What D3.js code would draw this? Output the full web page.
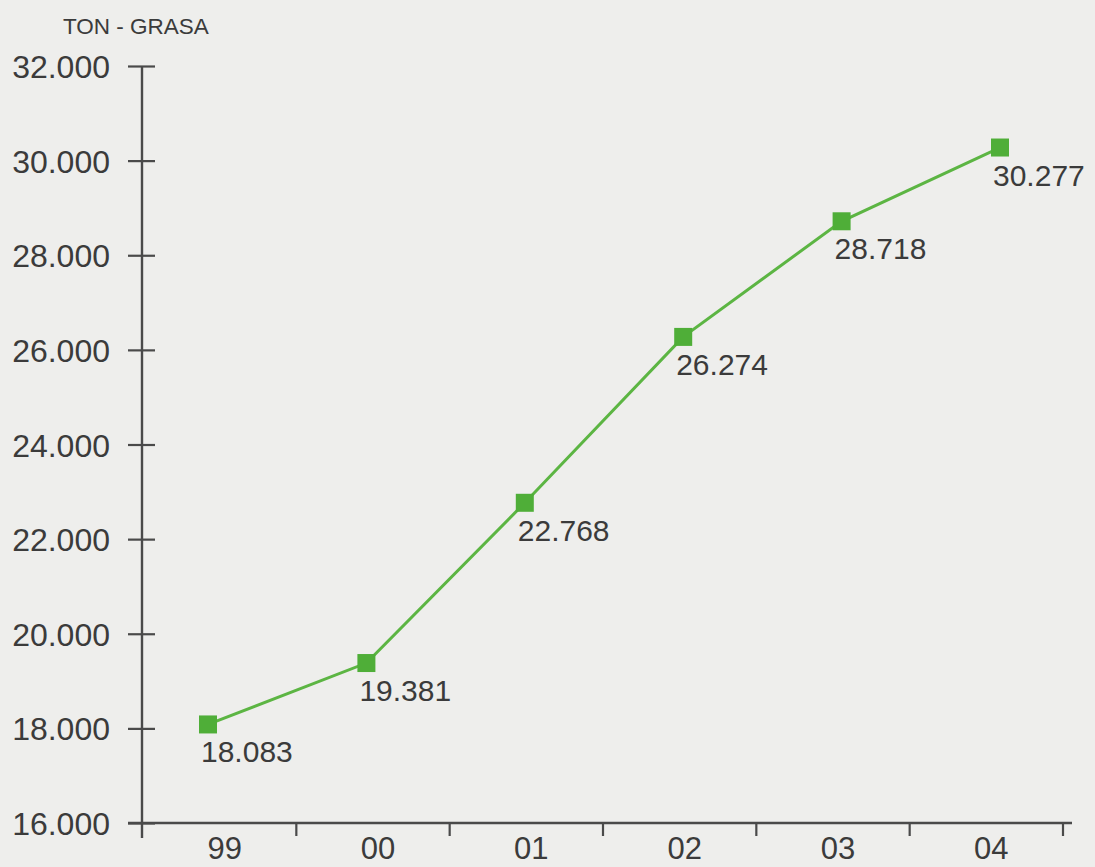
<!DOCTYPE html>
<html>
<head>
<meta charset="utf-8">
<script src="https://cdn.jsdelivr.net/npm/d3@7"></script>
<style>
  html, body { margin: 0; padding: 0; background: #eeeeec; }
  svg { display: block; }
  text { font-family: "Liberation Sans", Arial, Helvetica, sans-serif; fill: #3b3b3b; }
</style>
</head>
<body>
<svg id="chart" width="1095" height="867"></svg>
<script>
// ---- data ----
const categories = ["99", "00", "01", "02", "03", "04"];
const tonGrasa = [18083, 19381, 22768, 26274, 28718, 30277];
const yTicks = [16000, 18000, 20000, 22000, 24000, 26000, 28000, 30000, 32000];
const yTitle = "TON - GRASA";

// ---- setup ----
const svg = d3.select("#chart");
svg.append("rect").attr("width", 1095).attr("height", 867).attr("fill", "#eeeeec");

const loc = d3.formatLocale({ decimal: ",", thousands: ".", grouping: [3], currency: ["$", ""] });
const fmt = loc.format(",d");

const y = d3.scaleLinear().domain([16000, 32000]).range([823, 66]);
const xBand = d3.scaleBand().domain(categories).range([143, 1063]).paddingInner(0).paddingOuter(0);
const xPt = d3.scalePoint().domain(categories).range([208, 1000]);

const axisColor = "#4a4a4a";

// y axis
const yAxisG = svg.append("g").attr("transform", "translate(142,0)")
  .call(d3.axisLeft(y).tickValues(yTicks).tickFormat(fmt).tickSize(14).tickPadding(18));
yAxisG.select(".domain").remove();
yAxisG.selectAll(".tick line").attr("x1", -14).attr("x2", 13)
  .attr("stroke", axisColor).attr("stroke-width", 2.2);
yAxisG.selectAll(".tick text").attr("font-size", 32).attr("fill", "#3b3b3b")
  .attr("font-family", "Liberation Sans, Arial, sans-serif").attr("dy", "0.36em");
yAxisG.append("line").attr("x1", 0).attr("x2", 0).attr("y1", y(32000)).attr("y2", 838)
  .attr("stroke", axisColor).attr("stroke-width", 2.4);

// x axis
const xAxisG = svg.append("g").attr("transform", `translate(0,${y(16000)})`);
xAxisG.append("line").attr("x1", 128).attr("x2", 1072).attr("y1", 0).attr("y2", 0)
  .attr("stroke", axisColor).attr("stroke-width", 2.4);
xAxisG.selectAll("line.bt").data(categories).join("line").attr("class", "bt")
  .attr("x1", d => xBand(d) + xBand.step()).attr("x2", d => xBand(d) + xBand.step())
  .attr("y1", 0).attr("y2", 13).attr("stroke", axisColor).attr("stroke-width", 2.2);
xAxisG.selectAll("text.xl").data(categories).join("text").attr("class", "xl")
  .attr("x", d => xBand(d) + xBand.bandwidth() / 2 + 5).attr("y", 36)
  .attr("text-anchor", "middle").attr("font-size", 31).text(d => d);

// title
svg.append("text").attr("x", 63).attr("y", 34).attr("font-size", 22.5).text(yTitle);

// line
const pts = categories.map((c, i) => ({ c, v: tonGrasa[i] }));
svg.append("path").datum(pts)
  .attr("d", d3.line().x(d => xPt(d.c)).y(d => y(d.v)))
  .attr("fill", "none").attr("stroke", "#5cb543").attr("stroke-width", 3);

const ms = 18;
svg.selectAll("rect.m").data(pts).join("rect").attr("class", "m")
  .attr("x", d => xPt(d.c) - ms / 2).attr("y", d => y(d.v) - ms / 2)
  .attr("width", ms).attr("height", ms).attr("fill", "#4fae38");

svg.selectAll("text.dl").data(pts).join("text").attr("class", "dl")
  .attr("x", d => xPt(d.c) - 7).attr("y", d => y(d.v) + 38)
  .attr("font-size", 30).text(d => fmt(d.v));
</script>
</body>
</html>
